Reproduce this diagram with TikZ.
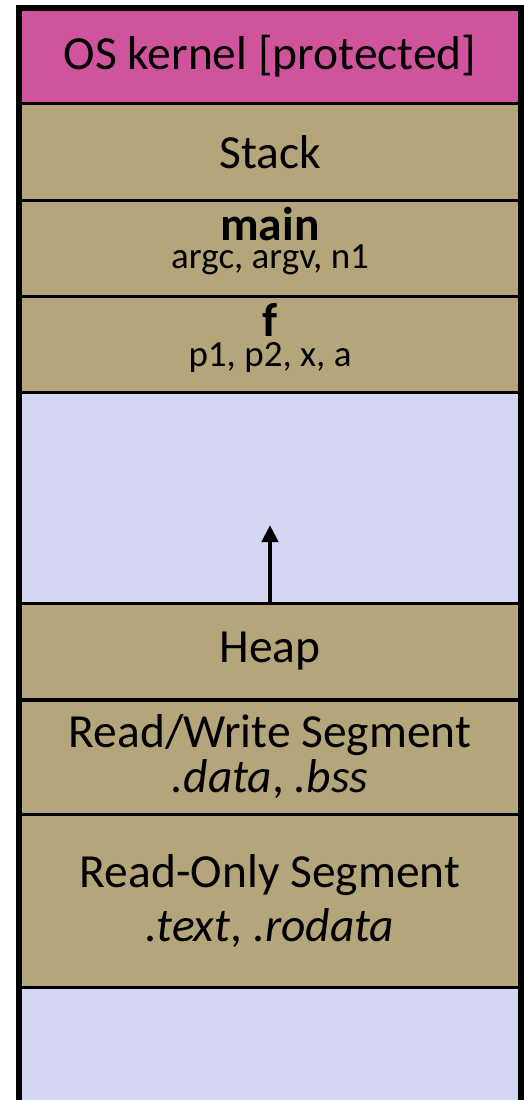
\documentclass[tikz,border=0pt]{standalone}
\usepackage{fontspec}
\setmainfont{Carlito}
\usetikzlibrary{arrows.meta}

\definecolor{kernelpink}{RGB}{208,84,156}
\definecolor{segtan}{RGB}{181,165,122}
\definecolor{freeblue}{RGB}{213,215,242}

\begin{document}
\begin{tikzpicture}[x=1pt,y=-1pt]
	\tikzstyle{seg}  = [rectangle,draw,line width=3.5pt,fill=segtan,minimum width=499pt,inner sep=0pt,anchor=north,align=center,font=\fontsize{47.5}{47.5}\selectfont]
	\tikzstyle{freeseg} = [seg,fill=freeblue]
	\tikzstyle{growarrow} = [-{Triangle[width=16pt,length=17pt]},line width=4.5pt]
	
	\clip (0,0) rectangle (524,1100);
	
	% memory segments, top to bottom
	\node[seg,fill=kernelpink,minimum height=94.5pt] (kernel) at (270,7) {OS kernel [protected]};
	\node[seg,minimum height=97pt] (stack) at (270,101.5) {Stack};
	\node[seg,minimum height=96pt,text depth=21pt] (mainframe) at (270,198.5) {\textbf{main}\\[-19pt]{\fontsize{37}{37}\selectfont argc, argv, n1}};
	\node[seg,minimum height=96pt,text depth=19pt] (fframe) at (270,294.5) {\textbf{f}\\[-17pt]{\fontsize{37}{37}\selectfont p1, p2, x, a}};
	\node[freeseg,minimum height=211pt] (gap) at (270,390.5) {};
	\node[seg,minimum height=96.5pt] (heap) at (270,601.5) {Heap};
	\node[seg,minimum height=114.5pt] (rwseg) at (270,698) {Read/Write Segment\\[-2.5pt]\textit{.data}, \textit{.bss}};
	\node[seg,minimum height=173pt] (roseg) at (270,812.5) {Read-Only Segment\\[6.5pt]\textit{.text}, \textit{.rodata}};
	\node[freeseg,minimum height=118.5pt] (unused) at (270,985.5) {};
	
	\draw[line width=5pt] (kernel.north west) rectangle (unused.south east);
	
	\coordinate (heaptop) at (270,525);
	\draw[growarrow] (heap.north) -- (heaptop);
\end{tikzpicture}
\end{document}
